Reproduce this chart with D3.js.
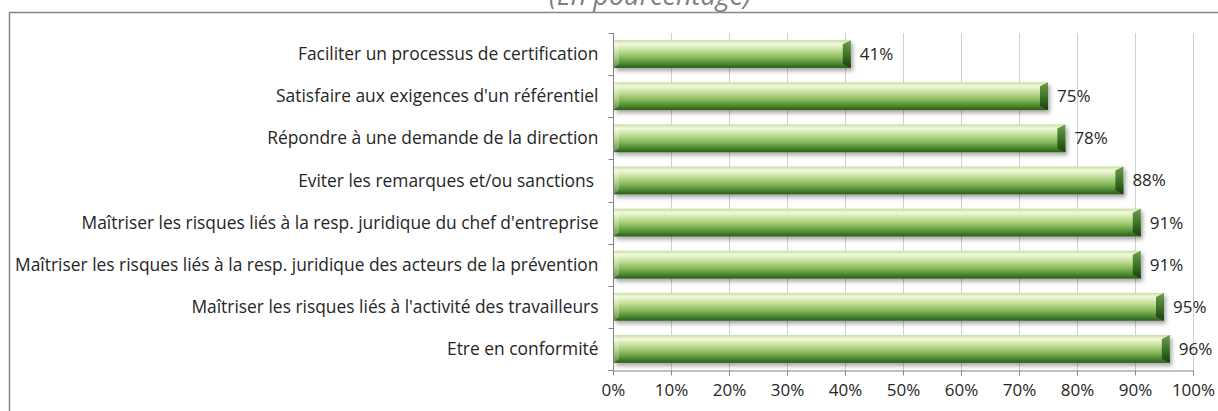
<!DOCTYPE html>
<html lang="fr">
<head>
    <meta charset="UTF-8">
    <title>En pourcentage</title>
    <style>
        body { margin: 0; background: #fff; }
        svg text { font-family: "Open Sans", sans-serif; fill: #262626; }
        .axis path, .axis line { stroke: #868686; }
        .grid line { stroke: #d0d0d0; }
    </style>
</head>
<body>
    <div id="chart"></div>

    <script src="https://d3js.org/d3.v7.min.js"></script>
    <script>
        // Données (de haut en bas)
        const categories = [
            "Faciliter un processus de certification",
            "Satisfaire aux exigences d'un référentiel",
            "Répondre à une demande de la direction",
            "Eviter les remarques et/ou sanctions ",
            "Maîtriser les risques liés à la resp. juridique du chef d'entreprise",
            "Maîtriser les risques liés à la resp. juridique des acteurs de la prévention",
            "Maîtriser les risques liés à l'activité des travailleurs",
            "Etre en conformité"
        ];
        const values = [41, 75, 78, 88, 91, 91, 95, 96];
        const xTicks = [0, 10, 20, 30, 40, 50, 60, 70, 80, 90, 100];
        const title = "(En pourcentage)";

        const W = 1218, H = 411;
        const margin = { top: 33, right: 25, bottom: 41, left: 613 };
        const labelSize = 17.4;

        const svg = d3.select("#chart").append("svg")
            .attr("width", W)
            .attr("height", H);

        const defs = svg.append("defs");
        const grad = defs.append("linearGradient")
            .attr("id", "barGrad").attr("x1", 0).attr("y1", 0).attr("x2", 0).attr("y2", 1);
        grad.append("stop").attr("offset", "0%").attr("stop-color", "#c6df9e");
        grad.append("stop").attr("offset", "14%").attr("stop-color", "#f1f8de");
        grad.append("stop").attr("offset", "38%").attr("stop-color", "#c2de97");
        grad.append("stop").attr("offset", "62%").attr("stop-color", "#89bb5c");
        grad.append("stop").attr("offset", "84%").attr("stop-color", "#4e8a32");
        grad.append("stop").attr("offset", "100%").attr("stop-color", "#2a5c18");

        const capGrad = defs.append("linearGradient")
            .attr("id", "capGrad").attr("x1", 0).attr("y1", 0).attr("x2", 0).attr("y2", 1);
        capGrad.append("stop").attr("offset", "0%").attr("stop-color", "#6f9c4c");
        capGrad.append("stop").attr("offset", "50%").attr("stop-color", "#3f752a");
        capGrad.append("stop").attr("offset", "100%").attr("stop-color", "#173d0d");

        const shadow = defs.append("filter").attr("id", "shadow")
            .attr("x", "-5%").attr("y", "-30%").attr("width", "115%").attr("height", "170%");
        shadow.append("feGaussianBlur").attr("in", "SourceAlpha").attr("stdDeviation", 2);
        shadow.append("feOffset").attr("dx", 2).attr("dy", 3).attr("result", "off");
        shadow.append("feComponentTransfer").append("feFuncA").attr("type", "linear").attr("slope", 0.35);
        const merge = shadow.append("feMerge");
        merge.append("feMergeNode");
        merge.append("feMergeNode").attr("in", "SourceGraphic");

        // Titre (coupé en haut, comme dans l'original)
        svg.append("text")
            .attr("x", 650)
            .attr("y", 5)
            .attr("text-anchor", "middle")
            .style("font-size", "27px")
            .style("font-style", "italic")
            .style("fill", "#7f7f7f")
            .text(title);

        // Cadre
        svg.append("rect")
            .attr("x", 9.5).attr("y", 12.5)
            .attr("width", 1220).attr("height", 420)
            .attr("fill", "none")
            .attr("stroke", "#868686")
            .attr("stroke-width", 1.5);

        const plotW = W - margin.left - margin.right;
        const plotH = H - margin.top - margin.bottom;
        const g = svg.append("g").attr("transform", `translate(${margin.left},${margin.top})`);

        const x = d3.scaleLinear().domain([0, 100]).range([0, plotW]);
        const y = d3.scaleBand().domain(categories).range([0, plotH]).paddingInner(0.34).paddingOuter(0.17);
        const yTicks = d3.scaleLinear().domain([0, categories.length]).range([0, plotH]);

        // Quadrillage
        g.append("g").attr("class", "grid")
            .selectAll("line")
            .data(xTicks.slice(1))
            .enter().append("line")
            .attr("x1", d => Math.round(x(d)) + 0.5)
            .attr("x2", d => Math.round(x(d)) + 0.5)
            .attr("y1", 0)
            .attr("y2", plotH);

        // Axe X
        g.append("g")
            .attr("class", "axis")
            .attr("transform", `translate(0,${plotH + 0.5})`)
            .call(d3.axisBottom(x).tickValues(xTicks).tickFormat(d => d + "%").tickSize(5).tickSizeOuter(0).tickPadding(8))
            .call(a => a.selectAll("text").style("font-size", "17px").style("fill", "#262626"));

        // Axe Y (graduations entre les catégories)
        const yAxis = g.append("g").attr("class", "axis").attr("transform", "translate(0.5,0)");
        yAxis.append("line").attr("y1", 0).attr("y2", plotH).attr("stroke", "#868686");
        yAxis.selectAll(".tk")
            .data(d3.range(categories.length + 1))
            .enter().append("line")
            .attr("x1", -5).attr("x2", 0)
            .attr("y1", i => Math.round(yTicks(i)) + 0.5)
            .attr("y2", i => Math.round(yTicks(i)) + 0.5)
            .attr("stroke", "#868686");
        yAxis.selectAll(".lbl")
            .data(categories)
            .enter().append("text")
            .attr("x", -15)
            .attr("y", d => y(d) + y.bandwidth() / 2)
            .attr("dy", "0.35em")
            .attr("text-anchor", "end")
            .style("font-size", labelSize + "px")
            .style("white-space", "pre")
            .text(d => d);

        // Barres
        const bars = g.selectAll(".bar")
            .data(categories.map((c, i) => ({ c, v: values[i] })))
            .enter().append("g")
            .attr("class", "bar")
            .attr("filter", "url(#shadow)");

        bars.append("rect")
            .attr("x", 1)
            .attr("y", d => y(d.c))
            .attr("width", d => x(d.v) - 1)
            .attr("height", y.bandwidth())
            .attr("fill", "url(#barGrad)");

        // Biseau gauche
        bars.append("path")
            .attr("d", d => {
                const t = y(d.c), b = t + y.bandwidth();
                return `M1,${t} L6,${t + 4} L6,${b - 4} L1,${b} Z`;
            })
            .attr("fill", "#ffffff")
            .attr("opacity", 0.25);

        // Biseau de bout
        bars.append("path")
            .attr("d", d => {
                const t = y(d.c), b = t + y.bandwidth(), e = x(d.v);
                return `M${e - 8},${t + 4} L${e},${t} L${e},${b} L${e - 8},${b - 4} Z`;
            })
            .attr("fill", "url(#capGrad)");

        // Étiquettes de valeur
        g.selectAll(".val")
            .data(categories.map((c, i) => ({ c, v: values[i] })))
            .enter().append("text")
            .attr("x", d => x(d.v) + 9)
            .attr("y", d => y(d.c) + y.bandwidth() / 2)
            .attr("dy", "0.35em")
            .style("font-size", "17px")
            .text(d => d.v + "%");
    </script>
</body>
</html>
